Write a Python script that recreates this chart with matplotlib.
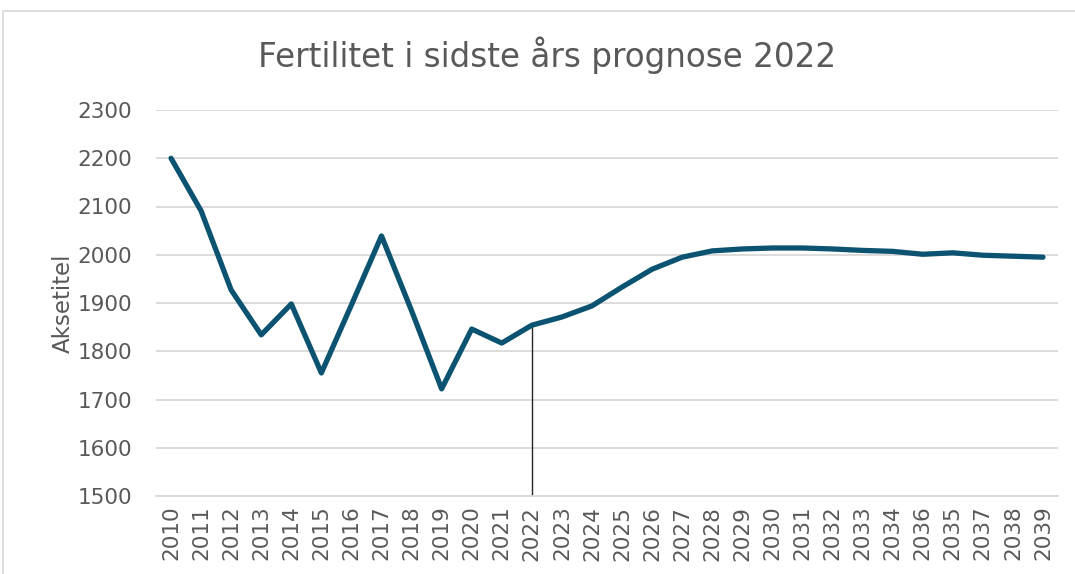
import matplotlib
matplotlib.use("Agg")
import matplotlib.pyplot as plt
from matplotlib.patches import Rectangle

# category labels as they appear on the axis (note 2036 before 2035)
years = ["2010", "2011", "2012", "2013", "2014", "2015", "2016", "2017", "2018", "2019",
         "2020", "2021", "2022", "2023", "2024", "2025", "2026", "2027", "2028", "2029",
         "2030", "2031", "2032", "2033", "2034", "2036", "2035", "2037", "2038", "2039"]
fertility = [2200, 2091, 1927, 1834, 1898, 1755, 1896, 2039, 1884, 1722,
             1846, 1817, 1854, 1871, 1894, 1933, 1970, 1995, 2008, 2012,
             2014, 2014, 2012, 2009, 2007, 2001, 2004, 1999, 1997, 1995]
marker_year = "2022"
yticks = [1500, 1600, 1700, 1800, 1900, 2000, 2100, 2200, 2300]

text_color = "#595959"
line_color = "#0B5370"

fig = plt.figure(figsize=(10.75, 5.74), dpi=100)
ax = fig.add_axes([156 / 1075, 1 - 496 / 574, (1058 - 156) / 1075, (496 - 110) / 574])

x = list(range(len(years)))
ax.plot(x, fertility, color=line_color, linewidth=3.8, solid_capstyle="round",
        solid_joinstyle="round", zorder=3)

# thin vertical marker at the base year
i = years.index(marker_year)
ax.vlines(i, 1500, fertility[i], color="#262626", linewidth=1.0, zorder=2)

ax.set_xlim(-0.5, len(years) - 0.5)
ax.set_ylim(1500, 2300)
ax.set_yticks(yticks)
ax.set_xticks(x)
ax.set_xticklabels(years, rotation=90)
ax.tick_params(axis="both", length=0, labelsize=15.5, labelcolor=text_color)
ax.tick_params(axis="y", pad=17)
ax.tick_params(axis="x", pad=7)
ax.grid(axis="y", color="#d9d9d9", linewidth=1.3)
ax.set_axisbelow(True)
for side in ["top", "right", "left"]:
    ax.spines[side].set_visible(False)
ax.spines["bottom"].set_color("#d9d9d9")
ax.spines["bottom"].set_linewidth(1.3)

ax.set_ylabel("Aksetitel", fontsize=16.5, color=text_color, labelpad=2)
fig.text(547 / 1075, 1 - 55 / 574, "Fertilitet i sidste års prognose 2022",
         ha="center", va="center", fontsize=23.5, color=text_color)

# chart border
fig.patches.append(Rectangle((3 / 1075, -0.01), 1.1, 1 - 11 / 574 + 0.01,
                             transform=fig.transFigure, fill=False,
                             edgecolor="#d9d9d9", linewidth=1.2))

fig.savefig("out.png", dpi=100, facecolor="white")
